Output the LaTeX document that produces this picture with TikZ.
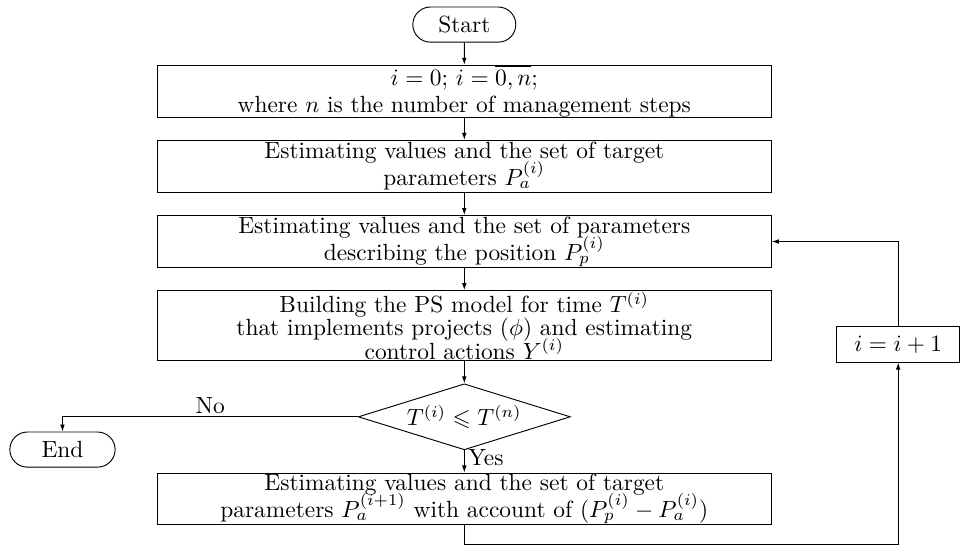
\documentclass[tikz,border=0pt]{standalone}
\usepackage{amsmath,amssymb}
\usetikzlibrary{arrows.meta,positioning,shapes.geometric,shapes.misc}

\begin{document}
\begin{tikzpicture}[>={Latex[length=3pt,width=2pt]},node distance=9.5pt,
  procbox/.style={draw,align=center,inner xsep=0.8pt,inner ysep=0pt,minimum width=262.4pt,minimum height=22.2pt,font={\fontsize{10}{11.5}\selectfont\lineskiplimit=-6pt}},
  termbox/.style={draw,rounded rectangle,inner sep=1.5pt,minimum width=47pt,minimum height=15pt},
  decbox/.style={draw,diamond,aspect=3.2,inner sep=1pt,minimum width=90.6pt,minimum height=27.8pt}]
  \useasboundingbox (0,0) rectangle (411.5pt,-233.8pt);
  \node[termbox] (start) at (198.4pt,-10.5pt) {Start};
  \node[procbox,below=of start] (init) {$i=0$; $i=\overline{0,n}$;\\ where $n$ is the number of management steps};
  \node[procbox,below=of init] (target) {Estimating values and the set of target\\ parameters $P_a^{(i)}$};
  \node[procbox,below=of target] (position) {Estimating values and the set of parameters\\ describing the position $P_p^{(i)}$};
  \node[procbox,below=of position,minimum height=29.9pt,font={\fontsize{10}{9.9}\selectfont\lineskiplimit=-6pt}] (model) {Building the PS model for time $T^{(i)}$\\ that implements projects $(\phi)$ and estimating\\ control actions $Y^{(i)}$};
  \node[decbox,below=of model] (check) {$T^{(i)}\leqslant T^{(n)}$};
  \node[procbox,below=of check] (update) {Estimating values and the set of target\\ parameters $P_a^{(i+1)}$ with account of $(P_p^{(i)}-P_a^{(i)})$};
  \node[termbox,minimum width=48pt] (end) at (26.7pt,-192.1pt) {End};
  \node[draw,inner sep=2pt,minimum width=52.6pt,minimum height=15pt] (inc) at (383.8pt,-147.2pt) {$i=i+1$};
  \draw[->] (start) -- (init);
  \draw[->] (init) -- (target);
  \draw[->] (target) -- (position);
  \draw[->] (position) -- (model);
  \draw[->] (model) -- (check);
  \draw[->] (check) -- node[right,pos=.35,inner sep=1.5pt] {Yes} (update);
  \draw[->] (check.west) -| node[above,pos=.25,inner sep=1pt] {No} (end.north);
  \draw[->] (update.south) -- ++(0,-8pt) -| (inc.south);
  \draw[->] (inc.north) |- (position.east);
\end{tikzpicture}
\end{document}
